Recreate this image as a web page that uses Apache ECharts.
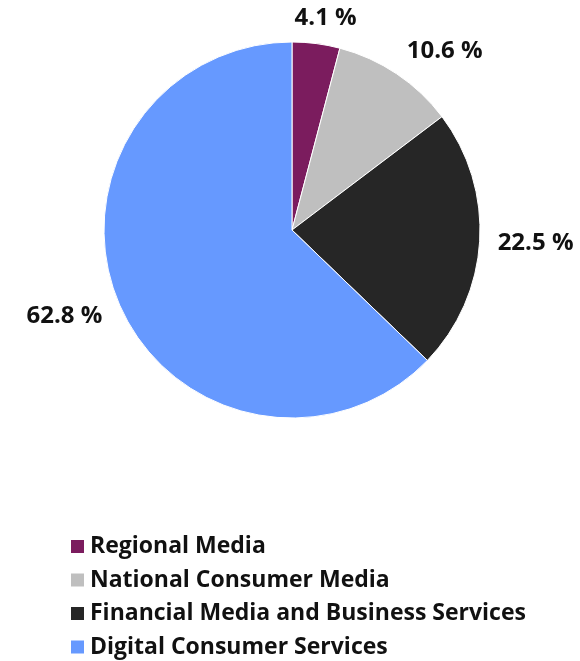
<!DOCTYPE html>
<html>
<head>
<meta charset="utf-8">
<script src="https://cdn.jsdelivr.net/npm/echarts@6/dist/echarts.min.js"></script>
<style>
  html, body { margin: 0; padding: 0; background: #fff; }
  #chart { width: 580px; height: 661px; }
</style>
</head>
<body>
<div id="chart"></div>
<script>
const segments = ['Regional Media', 'National Consumer Media', 'Financial Media and Business Services', 'Digital Consumer Services'];
const shares = [4.1, 10.6, 22.5, 62.8];
const colors = ['#7B1C5E', '#BFBFBF', '#262626', '#6699FF'];

const myChart = echarts.init(document.getElementById('chart'));
const font = '"Open Sans", Lato, sans-serif';

const cx = 292, cy = 230, R = 188, gap = 18;
// mid angle of every slice, clockwise from 12 o'clock
const total = shares.reduce((a, b) => a + b, 0);
let acc = 0;
const midAngles = shares.map(v => {
    const m = (acc + v / 2) / total * Math.PI * 2;
    acc += v;
    return m;
});
const clamp = (t) => Math.max(-1, Math.min(1, t));

const option = {
    animation: false,
    color: colors,
    legend: {
        orient: 'vertical',
        left: 69,
        top: 535,
        height: 300,
        padding: 0,
        itemWidth: 15,
        itemHeight: 15,
        itemGap: 10.5,
        icon: 'rect',
        data: segments,
        textStyle: { fontFamily: font, fontWeight: 'bold', fontSize: 23, color: '#111' }
    },
    series: [
        {
            type: 'pie',
            center: [cx, cy],
            radius: [0, R],
            startAngle: 90,
            clockwise: true,
            itemStyle: { borderColor: '#fff', borderWidth: 1 },
            label: {
                show: true,
                position: 'outside',
                overflow: 'none',
                formatter: (p) => p.value.toFixed(1) + ' %',
                fontFamily: font,
                fontWeight: 'bold',
                fontSize: 24,
                color: '#111'
            },
            labelLine: { show: false },
            // excel-like placement: box hangs off a point just outside the rim
            labelLayout: function (params) {
                const a = midAngles[params.dataIndex];
                const ux = Math.sin(a), uy = -Math.cos(a);
                const w = params.labelRect.width, h = 16;
                const px = cx + ux * (R + gap), py = cy + uy * (R + gap);
                return {
                    x: px + clamp(ux * 1.8) * w / 2,
                    y: py + clamp(uy * 1.8) * h / 2,
                    align: 'center',
                    verticalAlign: 'middle'
                };
            },
            data: segments.map((name, i) => ({ name: name, value: shares[i] }))
        }
    ]
};

myChart.setOption(option);
</script>
</body>
</html>
